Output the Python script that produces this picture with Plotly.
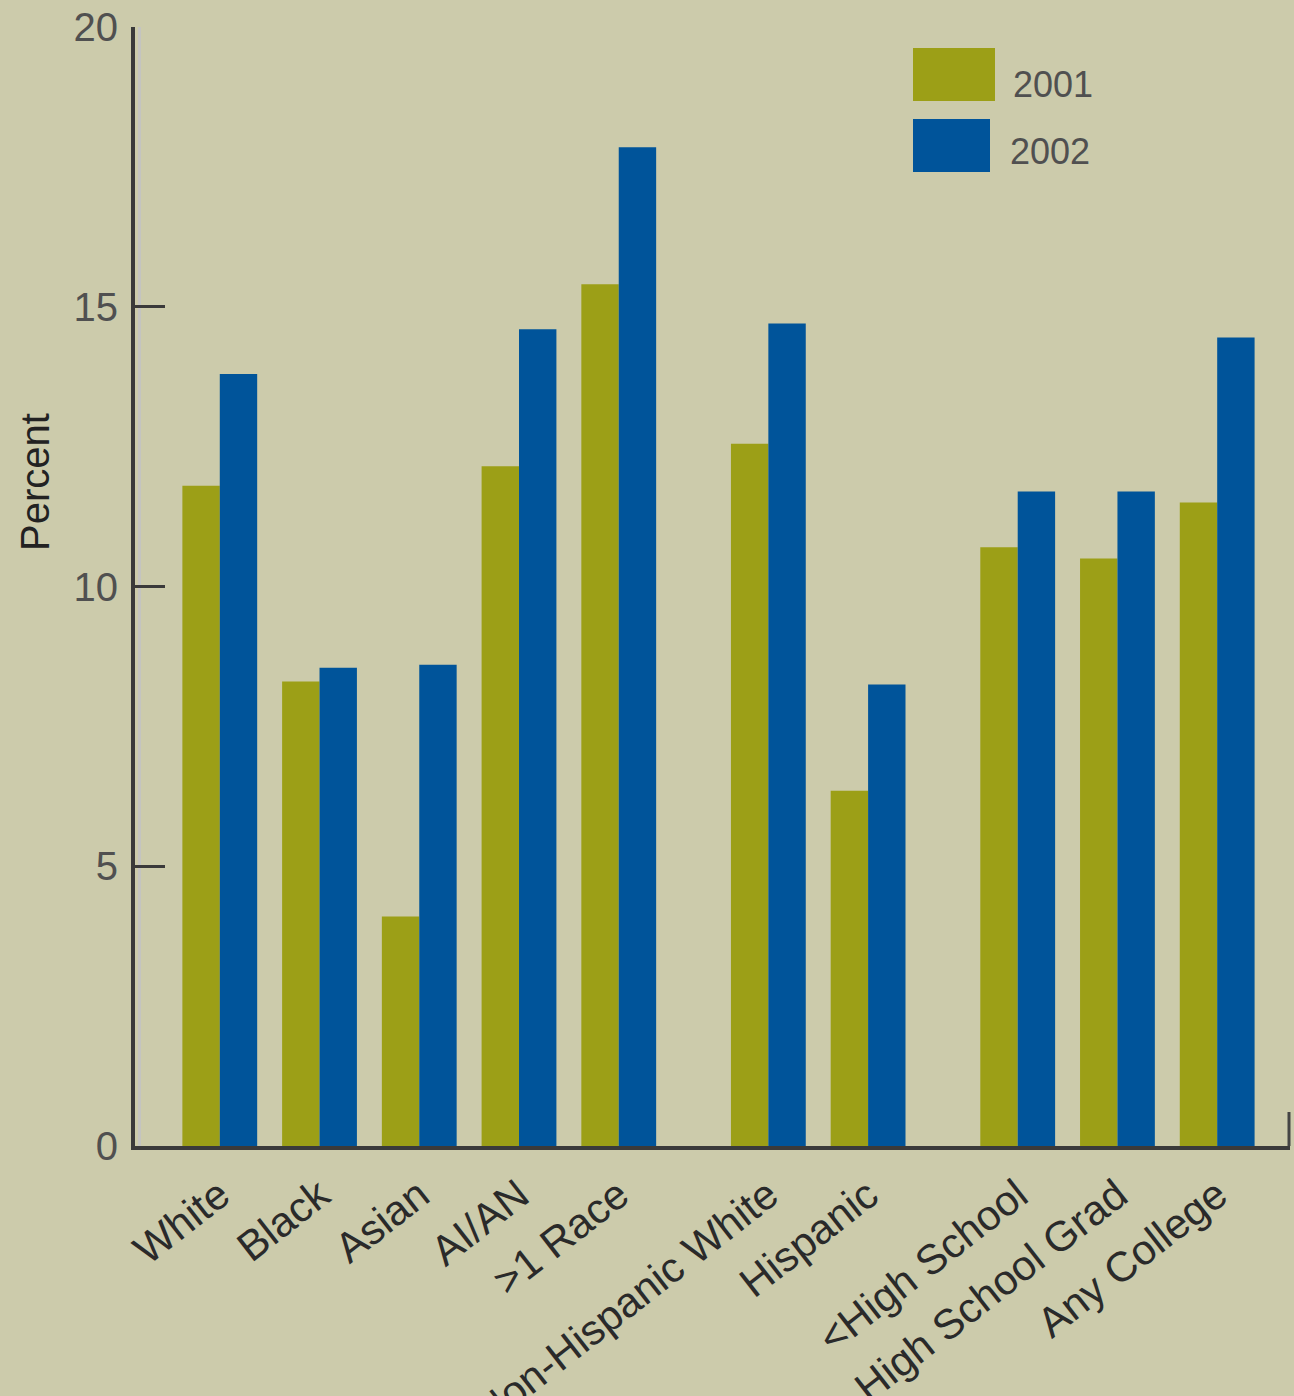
import plotly.graph_objects as go

# ---- data ----
categories = ["White", "Black", "Asian", "AI/AN", ">1 Race",
              "Non-Hispanic White", "Hispanic",
              "<High School", "High School Grad", "Any College"]
values_2001 = [11.8, 8.3, 4.1, 12.15, 15.4, 12.55, 6.35, 10.7, 10.5, 11.5]
values_2002 = [13.8, 8.55, 8.6, 14.6, 17.85, 14.7, 8.25, 11.7, 11.7, 14.45]
series_names = ["2001", "2002"]
y_ticks = [0, 5, 10, 15, 20]

# ---- layout helpers (positions / styles) ----
x_pos = [0, 1, 2, 3, 4, 5.5, 6.5, 8, 9, 10]   # grouping gaps
W, H = 1294, 1396
L, R, T, B = 135, 4, 27, 250
PW, PH = W - L - R, H - T - B

def px(x):
    return (x - L) / PW

def py(y):
    return (H - B - y) / PH

OLIVE = "#9c9f17"
BLUE = "#00549a"
BG = "#cccbab"
FONT = "Liberation Sans, Arial, sans-serif"

fig = go.Figure()
fig.add_trace(go.Bar(x=x_pos, y=values_2001, name=series_names[0],
                     marker=dict(color=OLIVE, line=dict(width=0))))
fig.add_trace(go.Bar(x=x_pos, y=values_2002, name=series_names[1],
                     marker=dict(color=BLUE, line=dict(width=0))))

shapes = [
    # light highlight beside y axis
    dict(type="line", xref="paper", yref="paper", x0=px(139.5), x1=px(139.5),
         y0=0, y1=1, line=dict(color="#c4c4c0", width=3), layer="below"),
    # small tick at right end of x axis
    dict(type="line", xref="paper", yref="paper", x0=px(1289), x1=px(1289),
         y0=0, y1=py(1112), line=dict(color="#444", width=3)),
    # legend swatches
    dict(type="rect", xref="paper", yref="paper", x0=px(913), x1=px(995),
         y0=py(101), y1=py(48), fillcolor=OLIVE, line=dict(width=0)),
    dict(type="rect", xref="paper", yref="paper", x0=px(913), x1=px(990),
         y0=py(172), y1=py(119), fillcolor=BLUE, line=dict(width=0)),
]

annotations = [
    dict(text=series_names[0], xref="paper", yref="paper", x=px(1011), y=py(84),
         xanchor="left", yanchor="middle", showarrow=False,
         font=dict(family=FONT, size=36, color="#505050")),
    dict(text=series_names[1], xref="paper", yref="paper", x=px(1008), y=py(151),
         xanchor="left", yanchor="middle", showarrow=False,
         font=dict(family=FONT, size=36, color="#505050")),
    dict(text="Percent", xref="paper", yref="paper", x=px(35), y=py(482),
         xanchor="center", yanchor="middle", textangle=-90, showarrow=False,
         font=dict(family=FONT, size=40, color="#222")),
]

fig.update_layout(
    width=W, height=H,
    margin=dict(l=L, r=R, t=T, b=B, pad=0),
    paper_bgcolor=BG, plot_bgcolor=BG,
    barmode="group", bargap=0.25, bargroupgap=0,
    showlegend=False,
    shapes=shapes, annotations=annotations,
    font=dict(family=FONT),
)
fig.update_xaxes(
    range=[-0.85, 10.73], tickvals=x_pos, ticktext=categories,
    tickangle=-38, showgrid=False, zeroline=False,
    showline=True, linecolor="#3a3a3a", linewidth=4,
    ticks="", automargin=False, ticklabelstandoff=4,
    tickfont=dict(family=FONT, size=42, color="#2a2a2a"),
)
fig.update_yaxes(
    range=[0, 20], tickvals=y_ticks, showgrid=False, zeroline=False,
    showline=True, linecolor="#3a3a3a", linewidth=4,
    ticks="inside", ticklen=30, tickwidth=3, tickcolor="#3a3a3a",
    automargin=False, ticklabelstandoff=5,
    tickfont=dict(family=FONT, size=40, color="#505050"),
)

fig.write_html("out.html", config={"displayModeBar": False},
               post_script="document.body.style.margin='0';")
